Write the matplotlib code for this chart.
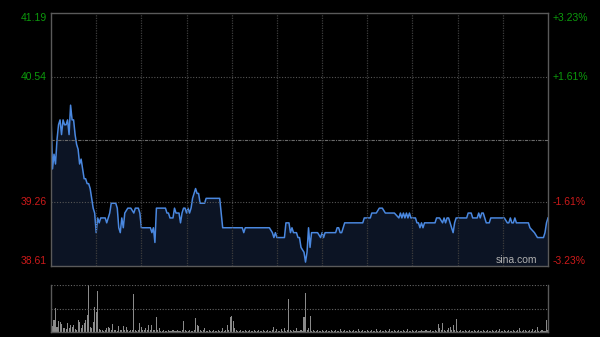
import matplotlib
matplotlib.use('Agg')
import matplotlib.pyplot as plt
import numpy as np

plt.rcParams['font.family'] = ['Liberation Sans', 'DejaVu Sans']

# prezzo intraday (minuti dalle 9:30, HK: 330 minuti di contrattazione)
minutes = [0, 1, 2, 3, 4, 5, 6, 7, 8, 9, 10, 11, 12, 13, 14, 15, 16, 17, 18, 19,
           20, 21, 22, 23, 24, 25, 26, 27, 28, 29, 30, 31, 32, 33, 34, 35, 36, 37, 39, 40,
           43, 44, 45, 46, 47, 48, 49, 51, 53, 55, 56, 58, 59, 60, 66, 67, 68, 69, 70, 71,
           76, 77, 78, 79, 81, 82, 83, 85, 86, 87, 88, 89, 90, 91, 92, 93, 94, 96, 97, 98,
           99, 102, 103, 104, 112, 114, 127, 128, 129, 145, 147, 148, 149, 150, 155, 156, 158, 159, 160, 161,
           162, 163, 164, 165, 166, 168, 169, 170, 171, 172, 173, 174, 177, 179, 180, 181, 182, 189, 190, 191,
           192, 193, 195, 207, 208, 211, 212, 213, 216, 218, 220, 222, 228, 231, 232, 233, 234, 235, 236, 237,
           238, 239, 240, 242, 243, 244, 245, 246, 247, 248, 251, 255, 256, 258, 260, 261, 262, 263, 264, 265,
           267, 268, 269, 276, 277, 279, 280, 283, 284, 285, 286, 287, 289, 291, 292, 301, 303, 304, 305, 306,
           307, 308, 309, 317, 318, 321, 323, 327, 328, 329, 330]
price = [40.15, 39.60, 39.75, 39.65, 39.90, 40.05, 40.10, 39.95, 40.10, 40.05, 40.05, 40.10, 39.95, 40.25, 40.10, 40.10, 39.95, 39.85, 39.80, 39.65,
         39.70, 39.60, 39.50, 39.50, 39.45, 39.45, 39.40, 39.30, 39.20, 39.15, 38.95, 39.10, 39.05, 39.10, 39.10, 39.10, 39.10, 39.05, 39.15, 39.25,
         39.25, 39.20, 39.00, 38.95, 39.10, 39.00, 39.15, 39.20, 39.20, 39.15, 39.20, 39.20, 39.15, 39.00, 39.00, 38.95, 39.00, 38.85, 39.20, 39.20,
         39.20, 39.15, 39.15, 39.10, 39.10, 39.20, 39.15, 39.15, 39.05, 39.15, 39.20, 39.20, 39.15, 39.20, 39.15, 39.20, 39.30, 39.40, 39.35, 39.35,
         39.25, 39.25, 39.30, 39.30, 39.30, 39.00, 39.00, 38.95, 39.00, 39.00, 38.95, 38.90, 38.95, 38.90, 38.90, 39.05, 39.05, 38.95, 39.00, 38.95,
         38.95, 38.95, 38.90, 38.90, 38.80, 38.75, 38.65, 38.75, 39.00, 38.80, 38.95, 38.95, 38.95, 38.90, 38.95, 38.90, 38.95, 38.95, 39.00, 39.00,
         38.95, 38.95, 39.05, 39.05, 39.10, 39.10, 39.10, 39.15, 39.15, 39.20, 39.20, 39.15, 39.15, 39.10, 39.15, 39.10, 39.15, 39.10, 39.15, 39.10,
         39.15, 39.10, 39.10, 39.10, 39.05, 39.05, 39.00, 39.05, 39.00, 39.05, 39.05, 39.05, 39.10, 39.10, 39.05, 39.10, 39.05, 39.10, 39.10, 39.05,
         38.95, 39.05, 39.10, 39.10, 39.15, 39.15, 39.10, 39.10, 39.15, 39.10, 39.15, 39.15, 39.05, 39.05, 39.10, 39.10, 39.05, 39.05, 39.10, 39.05,
         39.05, 39.10, 39.05, 39.05, 39.00, 38.95, 38.90, 38.90, 38.95, 39.05, 39.10]

# volume (relativo, 100 = massimo)
volume = [40, 12, 26, 51, 10, 23, 21, 17, 9, 8,
          6, 19, 8, 15, 11, 15, 7, 5, 26, 21,
          8, 15, 19, 26, 36, 100, 10, 8, 21, 53,
          43, 87, 6, 5, 4, 3, 5, 9, 11, 9,
          4, 17, 5, 4, 3, 13, 5, 4, 13, 5,
          11, 4, 3, 5, 4, 81, 4, 3, 5, 20,
          11, 4, 5, 9, 4, 15, 5, 15, 4, 5,
          32, 4, 9, 3, 3, 4, 3, 3, 4, 3,
          3, 4, 3, 3, 4, 3, 3, 4, 23, 4,
          3, 3, 4, 3, 3, 4, 30, 15, 13, 4,
          3, 4, 9, 3, 3, 4, 3, 3, 4, 3,
          3, 4, 3, 3, 9, 3, 4, 15, 4, 32,
          34, 23, 9, 4, 3, 3, 4, 3, 3, 4,
          3, 3, 4, 3, 3, 4, 3, 3, 4, 3,
          3, 4, 3, 3, 4, 3, 3, 4, 11, 3,
          6, 3, 3, 6, 3, 9, 3, 4, 70, 4,
          3, 4, 3, 9, 3, 3, 4, 3, 32, 84,
          4, 9, 34, 3, 4, 3, 3, 4, 3, 3,
          4, 3, 3, 4, 3, 3, 4, 3, 3, 4,
          3, 3, 6, 3, 3, 4, 3, 3, 4, 3,
          3, 4, 3, 3, 6, 3, 3, 4, 3, 3,
          4, 3, 3, 4, 3, 3, 6, 3, 3, 4,
          3, 3, 4, 3, 3, 6, 3, 3, 4, 3,
          3, 4, 3, 3, 4, 3, 3, 6, 3, 3,
          4, 3, 3, 4, 3, 3, 4, 3, 3, 4,
          3, 3, 4, 3, 3, 4, 3, 17, 9, 4,
          20, 4, 3, 4, 9, 11, 4, 15, 4, 28,
          3, 3, 4, 3, 3, 4, 3, 3, 4, 3,
          3, 4, 3, 3, 4, 3, 3, 4, 3, 3,
          4, 3, 3, 4, 3, 3, 4, 3, 6, 3,
          3, 4, 3, 3, 4, 3, 3, 4, 3, 3,
          4, 9, 3, 3, 4, 4, 3, 3, 4, 3,
          6, 3, 4, 11, 3, 3, 4, 3, 3, 26,
          4]

prev_close = 39.90
left_labels = ['41.19', '40.54', '39.26', '38.61']
left_values = [41.19, 40.54, 39.26, 38.61]
right_labels = ['+3.23%', '+1.61%', '-1.61%', '-3.23%']

green = '#0c9a0c'
red = '#cc1a1a'
frame = '#5a5a5a'
grid = '#3c3c3c'

fig = plt.figure(figsize=(6, 3.37), dpi=100, facecolor='black')
ax = fig.add_axes([51/600, 71/337, 497/600, 253/337], facecolor='black')
axv = fig.add_axes([51/600, 5/337, 497/600, 47/337], facecolor='black')

ax.set_xlim(0, 330)
ax.set_ylim(38.61, 41.19)
ax.fill_between(minutes, price, 38.61, color='#0c1424', lw=0)
ax.plot(minutes, price, color='#4a88e0', lw=1.1)

for m in range(30, 330, 30):
    ax.axvline(m, color=grid, lw=0.9, ls=(0, (1, 1)))
for v in [40.54, 39.26]:
    ax.axhline(v, color='#555555', lw=0.8, ls=(0, (1, 1.5)))
ax.axhline(prev_close, color='#6a6a6a', lw=0.8, ls=(0, (3, 1, 1, 1)))

ax.set_xticks([])
ax.set_yticks([])
for s in ax.spines.values():
    s.set_color(frame)
    s.set_linewidth(1)

vas = ['top', 'center', 'center', 'bottom']
cols = [green, green, red, red]
for lab, rl, v, va, c in zip(left_labels, right_labels, left_values, vas, cols):
    ax.text(-0.008, v, lab, transform=ax.get_yaxis_transform(), ha='right', va=va,
            color=c, fontsize=7.5)
    ax.text(1.01, v, rl, transform=ax.get_yaxis_transform(), ha='left', va=va,
            color=c, fontsize=7.5)

ax.text(0.978, 0.005, 'sina.com', transform=ax.transAxes, ha='right', va='bottom',
        color='#b0b0b0', fontsize=7.5)

# pannello volume
axv.bar(np.arange(len(volume)), volume, width=0.7, color='#8a8a8a', lw=0)
axv.set_xlim(0, 330)
axv.set_ylim(0, 100)
axv.axhline(100, color='#666666', lw=0.8, ls=(0, (1, 1.5)))
axv.axhline(50, color='#666666', lw=0.8, ls=(0, (1, 1.5)))
axv.set_xticks([])
axv.set_yticks([])
axv.spines['top'].set_visible(False)
for k in ['left', 'right', 'bottom']:
    axv.spines[k].set_color(frame)
    axv.spines[k].set_linewidth(1)

fig.savefig('out.png', dpi=100, facecolor='black')
